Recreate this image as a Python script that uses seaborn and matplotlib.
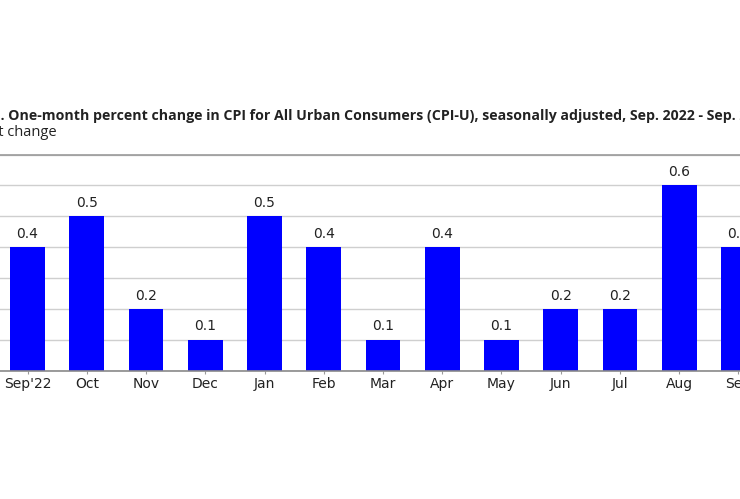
import matplotlib
matplotlib.use('Agg')
import pandas as pd
import seaborn as sns
from matplotlib import pyplot as plt

months = ["Sep'22", 'Oct', 'Nov', 'Dec', 'Jan', 'Feb', 'Mar', 'Apr',
          'May', 'Jun', 'Jul', 'Aug', 'Sep']
pct_change = [0.4, 0.5, 0.2, 0.1, 0.5, 0.4, 0.1, 0.4, 0.1, 0.2, 0.2, 0.6, 0.4]
value_labels = ['0.4', '0.5', '0.2', '0.1', '0.5', '0.4', '0.1', '0.4',
                '0.1', '0.2', '0.2', '0.6', '0.4']
y_ticks = [0.0, 0.1, 0.2, 0.3, 0.4, 0.5, 0.6, 0.7]

title = ('Chart 1. One-month percent change in CPI for All Urban Consumers (CPI-U), '
         'seasonally adjusted, Sep. 2022 - Sep. 2023')
subtitle = 'Percent change'


def main():
    sns.set_style('white')
    plt.rcParams['font.family'] = ['DejaVu Sans']

    W, H = 740, 499
    fig = plt.figure(figsize=(W / 100, H / 100), dpi=100)
    # the reference is a crop of a wider chart, so the axes run past both edges
    left_px, right_px = -2.1, 768.1
    top_px, bottom_px = 154.5, 370.5
    ax = fig.add_axes([left_px / W, (H - bottom_px) / H,
                       (right_px - left_px) / W, (bottom_px - top_px) / H])

    df = pd.DataFrame({'month': months, 'value': pct_change})
    sns.barplot(data=df, x='month', y='value', color='#0000ff', saturation=1,
                width=0.59, linewidth=0, ax=ax)

    ax.set_xlim(-0.5, len(months) - 0.5)
    ax.set_ylim(0, 0.7)
    ax.set_yticks(y_ticks)
    ax.yaxis.grid(True, color='#cfcfcf', linewidth=1)
    ax.set_axisbelow(True)
    ax.tick_params(axis='y', left=False, labelleft=False)
    ax.tick_params(axis='x', bottom=True, length=2, width=0.8, color='#999999',
                   pad=2.5, labelsize=10, labelcolor='#222222')
    ax.set_xlabel('')
    ax.set_ylabel('')
    for side in ['left', 'right']:
        ax.spines[side].set_visible(False)
    ax.spines['top'].set_color('#9a9a9a')
    ax.spines['top'].set_linewidth(1.2)
    ax.spines['bottom'].set_color('#8a8a8a')
    ax.spines['bottom'].set_linewidth(1.2)

    for i, (v, lab) in enumerate(zip(pct_change, value_labels)):
        ax.annotate(lab, (i, v), xytext=(0, 4.5), textcoords='offset points',
                    ha='center', va='bottom', fontsize=10, color='#222222')

    # title and subtitle: their start lies left of the visible area
    fig.canvas.draw()
    renderer = fig.canvas.get_renderer()
    t_font = dict(family=['Open Sans', 'DejaVu Sans'], fontsize=10.2,
                  fontweight='bold', color='#222222')
    s_font = dict(family=['Open Sans', 'DejaVu Sans'], fontsize=10.5,
                  color='#222222')
    probe = fig.text(0, 0, 'Chart 1', **t_font)
    w1 = probe.get_window_extent(renderer).width
    probe.remove()
    probe = fig.text(0, 0, 'Percen', **s_font)
    w2 = probe.get_window_extent(renderer).width
    probe.remove()
    fig.text((1 - w1) / W, (H - 116) / H, title, ha='left', va='center', **t_font)
    fig.text((-1.5 - w2) / W, (H - 132) / H, subtitle, ha='left', va='center',
             **s_font)

    fig.savefig('out.png', dpi=100, facecolor='white')


if __name__ == '__main__':
    main()
